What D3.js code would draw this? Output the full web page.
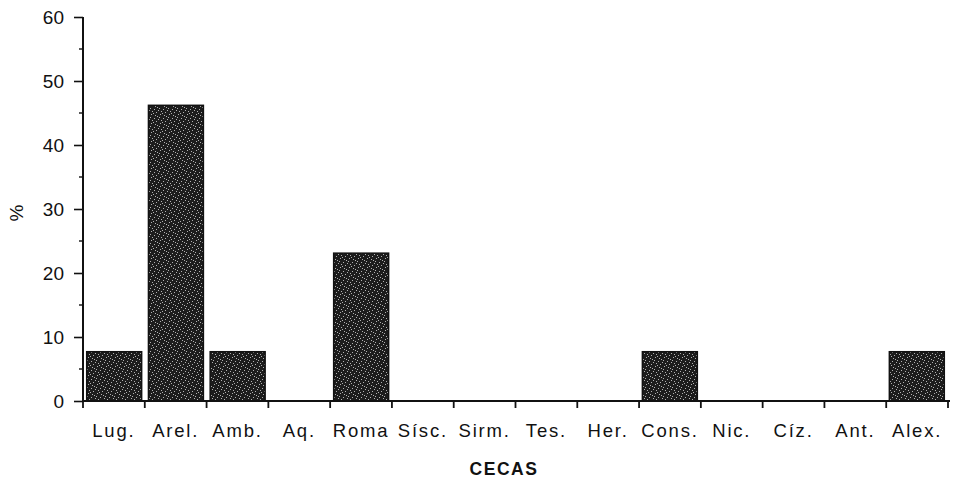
<!DOCTYPE html>
<html><head><meta charset="utf-8">
<script src="https://cdn.jsdelivr.net/npm/d3@7"></script>
<style>body{margin:0;background:#fff}svg{display:block}text{font-family:"Liberation Sans",Arial,sans-serif;fill:#111}</style>
</head><body><svg id="c" width="953" height="481"></svg>
<script>
const categories = ["Lug.","Arel.","Amb.","Aq.","Roma","Sísc.","Sirm.","Tes.","Her.","Cons.","Nic.","Cíz.","Ant.","Alex."];
const values = [7.7,46.2,7.7,0,23.1,0,0,0,0,7.7,0,0,0,7.7];
const yTicks = [0,10,20,30,40,50,60];
const yMinor = [5,15,25,35,45,55];
const svg = d3.select("#c");
const m = {l:83,r:948,t:17,b:401};
const x = d3.scaleBand().domain(categories).range([m.l,m.r]).paddingInner(0.11).paddingOuter(0.06);
const xt = d3.scaleBand().domain(categories).range([m.l,m.r]);
const y = d3.scaleLinear().domain([0,60]).range([m.b,m.t]);
// texture
const defs = svg.append("defs");
const pat = defs.append("pattern").attr("id","tex").attr("patternUnits","userSpaceOnUse").attr("width",9).attr("height",9);
pat.append("rect").attr("width",9).attr("height",9).attr("fill","#1c1c1c");
[[1,1],[5,2],[3,4],[7,6],[2,7],[6,0],[0,5],[4,8],[8,3]].forEach(([a,b])=>pat.append("rect").attr("x",a).attr("y",b).attr("width",1).attr("height",1).attr("fill","#b0b0b0"));
svg.append("g").selectAll("rect").data(categories.map((c,i)=>({c,v:values[i]})).filter(d=>d.v>0)).join("rect")
  .attr("x",d=>x(d.c)).attr("width",x.bandwidth()).attr("y",d=>y(d.v)).attr("height",d=>y(0)-y(d.v))
  .attr("fill","url(#tex)").attr("stroke","#111").attr("stroke-width",1.5);
// y axis
const ya = svg.append("g").attr("transform",`translate(${m.l},0)`)
  .call(d3.axisLeft(y).tickValues(yTicks).tickSize(9).tickPadding(10).tickFormat(d3.format("d")));
ya.select(".domain").attr("stroke","#111").attr("stroke-width",2).attr("d",`M0,${m.t}V${m.b}`);
ya.selectAll(".tick line").attr("stroke","#111").attr("stroke-width",1.6);
ya.selectAll("text").attr("font-size",19).attr("font-family","Liberation Sans, Arial, sans-serif").attr("fill","#111");
svg.append("g").selectAll("line").data(yMinor).join("line").attr("x1",m.l-4).attr("x2",m.l).attr("y1",d=>y(d)).attr("y2",d=>y(d)).attr("stroke","#111").attr("stroke-width",1.4);
// x axis
const xa = svg.append("g").attr("transform",`translate(0,${m.b})`).call(d3.axisBottom(xt).tickSize(0).tickPadding(23));
xa.select(".domain").attr("stroke","#111").attr("stroke-width",2).attr("d",`M${m.l},0H${m.r+2}`);
xa.selectAll("text").attr("font-size",18.5).attr("letter-spacing","1.8px").attr("font-family","Liberation Sans, Arial, sans-serif").attr("fill","#111");
svg.append("g").selectAll("line").data(d3.range(categories.length+1)).join("line")
  .attr("x1",i=>m.l+i*xt.step()).attr("x2",i=>m.l+i*xt.step()).attr("y1",m.b).attr("y2",m.b+7).attr("stroke","#111").attr("stroke-width",1.8);
svg.append("text").attr("x",504).attr("y",475).attr("text-anchor","middle").attr("font-size",17.5).attr("letter-spacing","1.5px").attr("font-weight","bold").text("CECAS");
svg.append("text").attr("transform","translate(23,213) rotate(-90)").attr("text-anchor","middle").attr("font-size",19).text("%");
</script></body></html>
